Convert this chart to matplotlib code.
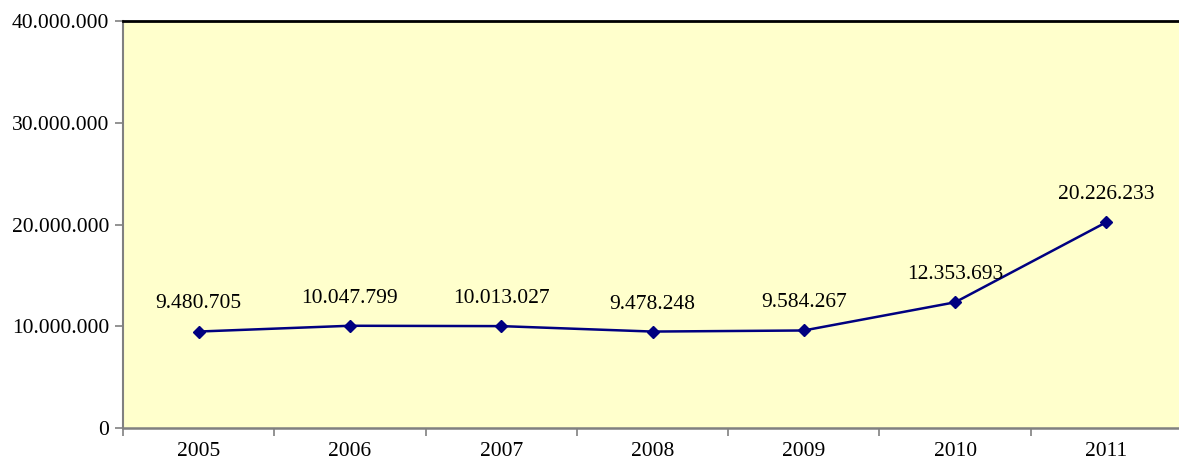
import matplotlib
matplotlib.use("Agg")
import matplotlib.pyplot as plt
from matplotlib.ticker import FuncFormatter, FixedLocator

years = ["2005", "2006", "2007", "2008", "2009", "2010", "2011"]
values = [9480705, 10047799, 10013027, 9478248, 9584267, 12353693, 20226233]
y_ticks = [0, 10000000, 20000000, 30000000, 40000000]

plt.rcParams['font.family'] = ['Liberation Serif', 'DejaVu Serif']

def fmt(v):
    return f"{int(v):,}".replace(",", ".")

fig = plt.figure(figsize=(11.79, 4.61), dpi=100)
ax = fig.add_axes([123/1179, 33/461, (1182-123)/1179, (428-21)/461])
ax.set_facecolor("#FFFFCC")

x = list(range(len(years)))
ax.plot(x, values, color="#000080", lw=1.8, marker="D", markersize=6.5,
        markerfacecolor="#000080", markeredgecolor="#000080", zorder=3)
for xi, v in zip(x, values):
    ax.annotate(fmt(v), (xi, v), xytext=(0, 13), textcoords="offset points",
                ha="center", va="bottom", fontsize=15.5, color="black")

ax.set_xlim(-0.5, len(years) - 0.5)
ax.set_ylim(0, 40000000)
ax.set_yticks(y_ticks)
ax.yaxis.set_major_formatter(FuncFormatter(lambda v, p: fmt(v)))
ax.set_xticks(x)
ax.set_xticklabels(years)
ax.xaxis.set_minor_locator(FixedLocator([i - 0.5 for i in range(len(years) + 1)]))
ax.tick_params(axis="x", which="major", length=0, pad=10, labelsize=15.5)
ax.tick_params(axis="x", which="minor", length=6, width=1.2, color="#808080", direction="out")
ax.tick_params(axis="y", length=6, width=1.2, color="#808080", labelsize=15.5, pad=4)

ax.spines["top"].set_color("black")
ax.spines["top"].set_linewidth(2)
ax.spines["left"].set_color("#808080")
ax.spines["left"].set_linewidth(1.5)
ax.spines["bottom"].set_color("#808080")
ax.spines["bottom"].set_linewidth(1.8)
ax.spines["right"].set_visible(False)

fig.savefig("out.png", dpi=100)
